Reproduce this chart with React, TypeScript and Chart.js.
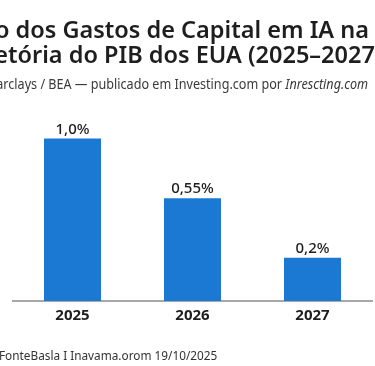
import React, { useEffect, useRef } from "react";
import { Chart, registerables } from "chart.js";

Chart.register(...registerables);

const categories = ["2025", "2026", "2027"];
const barValues = [1.0, 0.633, 0.266];
const valueLabels = ["1,0%", "0,55%", "0,2%"];
const titleLines = ["Impacto dos Gastos de Capital em IA na", "Trajetória do PIB dos EUA (2025–2027)"];
const subtitleMain = "Fonte: Barclays / BEA — publicado em Investing.com por ";
const subtitleItalic = "Inrescting.com";
const footerText = "FonteBasla I Inavama.orom 19/10/2025";

const FONT = '"Noto Sans", "Open Sans", sans-serif';

const textPlugin = {
  id: "textPlugin",
  afterDraw(chart: any) {
    const ctx = chart.ctx;
    ctx.save();
    // title
    ctx.fillStyle = "#1e1e1e";
    ctx.font = `600 23.5px ${FONT}`;
    ctx.textAlign = "right";
    ctx.textBaseline = "alphabetic";
    ctx.fillText(titleLines[0], 369, 38);
    ctx.fillText(titleLines[1], 382.5, 63);
    // subtitle (slightly condensed)
    ctx.save();
    ctx.translate(368, 89);
    ctx.scale(0.9, 1);
    ctx.fillStyle = "#3a3a3a";
    ctx.font = `italic 14px ${FONT}`;
    const iw = ctx.measureText(subtitleItalic).width;
    ctx.fillText(subtitleItalic, 0, 0);
    ctx.font = `14px ${FONT}`;
    ctx.fillText(subtitleMain, -iw, 0);
    ctx.restore();
    // footer
    ctx.textAlign = "left";
    ctx.fillStyle = "#333333";
    ctx.font = `11.8px ${FONT}`;
    ctx.fillText(footerText, -1, 360);
    // value labels
    const meta = chart.getDatasetMeta(0);
    ctx.textAlign = "center";
    ctx.fillStyle = "#1e1e1e";
    ctx.font = `500 15px ${FONT}`;
    meta.data.forEach((el: any, i: number) => {
      ctx.fillText(valueLabels[i], el.x, el.y - 5);
    });
    ctx.restore();
  },
};

export default function App() {
  const ref = useRef<HTMLCanvasElement>(null);
  useEffect(() => {
    if (!ref.current) return;
    const chart = new Chart(ref.current, {
      type: "bar",
      data: {
        labels: categories,
        datasets: [
          {
            data: barValues,
            backgroundColor: "#1b79d3",
            borderWidth: 0,
            barPercentage: 0.475,
            categoryPercentage: 1,
          },
        ],
      },
      options: {
        responsive: false,
        animation: false,
        layout: { padding: { left: 12.5, right: 2.5, top: 106, bottom: 35 } },
        plugins: {
          legend: { display: false },
          tooltip: { enabled: false },
          title: { display: false },
        },
        scales: {
          x: {
            grid: { display: false, drawTicks: false },
            border: { display: true, color: "#a8a8a8", width: 2 },
            ticks: {
              color: "#1e1e1e",
              font: { family: FONT, size: 15, weight: "bold" },
              padding: 6,
            },
          },
          y: {
            display: false,
            min: 0,
            max: 1.2,
          },
        },
      },
      plugins: [textPlugin],
    });
    return () => chart.destroy();
  }, []);
  return (
    <div style={{ position: "fixed", left: 0, top: 0, width: 375, height: 366, background: "#fff" }}>
      <canvas ref={ref} width={375} height={366} />
    </div>
  );
}
